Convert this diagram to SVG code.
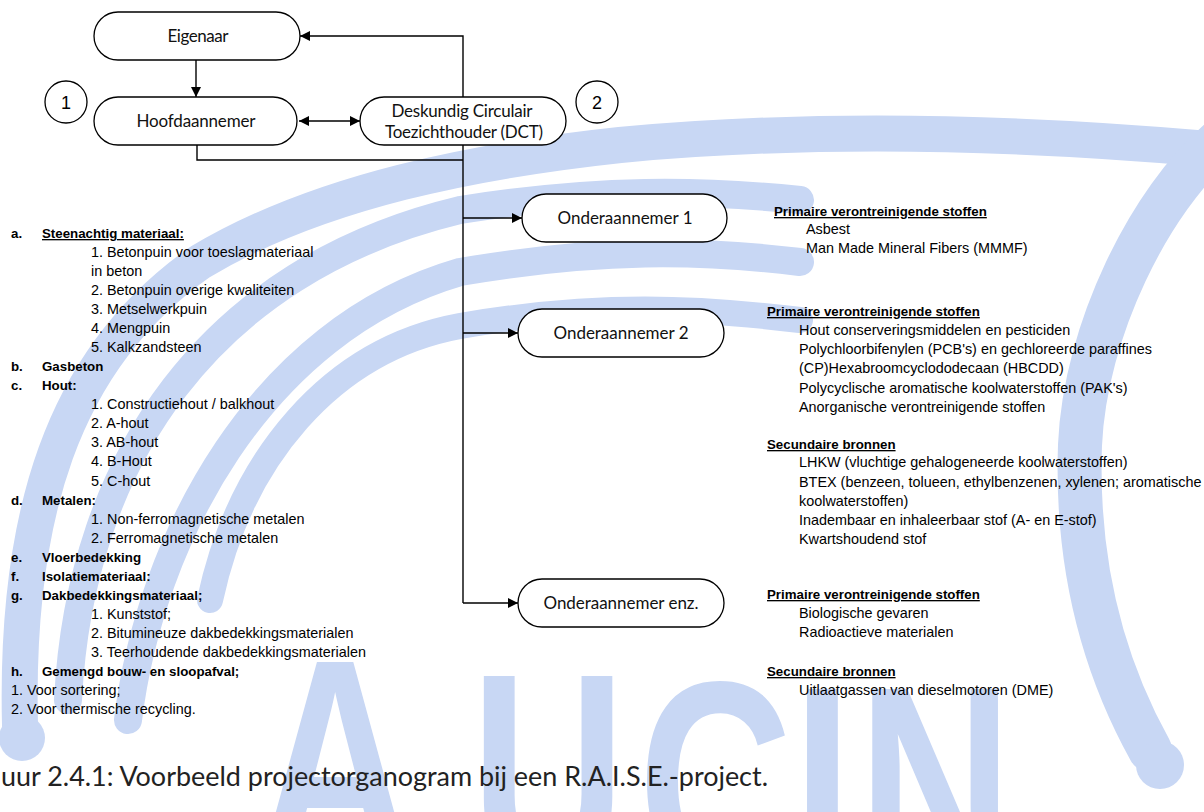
<svg xmlns="http://www.w3.org/2000/svg" width="1204" height="812" viewBox="0 0 1204 812">
<defs>
<marker id="ah" viewBox="0 0 10 10" refX="10" refY="5" markerWidth="13" markerHeight="10" markerUnits="userSpaceOnUse" orient="auto-start-reverse">
<path d="M0,0 L10,5 L0,10 z" fill="#000"/>
</marker>
</defs>
<style>
.wm{fill:none;stroke:#c8d7f4;stroke-linecap:round}
.wmf{fill:#c8d7f4}
.box{fill:#fff;stroke:#000;stroke-width:1.3}
.con{fill:none;stroke:#000;stroke-width:1.4}
.bl{font-family:Lato,"Open Sans",sans-serif;font-size:17px;fill:#111;text-anchor:middle}
.num{font-family:"Liberation Sans",Arial,sans-serif;font-size:18px;fill:#000;text-anchor:middle}
.t{font-family:"Liberation Sans",Arial,sans-serif;font-size:14.4px;fill:#000}
.b{font-family:"Liberation Sans",Arial,sans-serif;font-size:13.3px;font-weight:bold;fill:#000}
.u{text-decoration:underline}
.cap{font-family:Lato,"Open Sans",sans-serif;font-size:26px;fill:#222}
</style>
<g id="watermark">
<path class="wm" stroke-width="36" d="M20,725 C15,520 60,360 200,262 C320,190 480,160 620,145 C800,128 1000,130 1220,150"/>
<path class="wm" stroke-width="44" d="M1220,140 C1150,200 1085,330 1080,445 C1076,560 1100,660 1150,750"/>
<circle class="wmf" cx="22" cy="738" r="23"/>
<circle class="wmf" cx="1160" cy="765" r="24"/>
<path class="wm" stroke-width="28" d="M68,700 C80,460 210,270 460,210 C600,188 700,190 800,200"/>
<path class="wm" stroke-width="28" d="M128,720 C150,540 260,330 460,272 C600,248 700,250 800,262"/>
<path class="wm" stroke-width="26" d="M210,600 C240,460 330,350 460,326 C600,302 700,308 800,320"/>
<text transform="scale(0.75 1)" x="344 628 851 1057 1144" y="858 872 880 885 885" font-family="'Liberation Sans',Arial,sans-serif" font-weight="bold" font-size="285" fill="#c8d7f4">AUCIN</text>
</g>
<g id="connectors">
<line class="con" x1="196" y1="60" x2="196" y2="97" marker-end="url(#ah)"/>
<line class="con" x1="299" y1="121" x2="360" y2="121" marker-start="url(#ah)" marker-end="url(#ah)"/>
<polyline class="con" points="463,97 463,36 300,36" marker-end="url(#ah)"/>
<polyline class="con" points="197,145 197,160 463,160"/>
<line class="con" x1="463" y1="145" x2="463" y2="603"/>
<line class="con" x1="463" y1="218" x2="522" y2="218" marker-end="url(#ah)"/>
<line class="con" x1="463" y1="333" x2="518" y2="333" marker-end="url(#ah)"/>
<line class="con" x1="463" y1="603" x2="518" y2="603" marker-end="url(#ah)"/>
</g>
<g id="eigenaar">
<rect class="box" x="94" y="12" width="206" height="48" rx="24"/>
<text class="bl" x="198" y="42" textLength="61">Eigenaar</text>
</g>
<g id="hoofdaannemer">
<rect class="box" x="94" y="97" width="203" height="48" rx="24"/>
<text class="bl" x="196" y="127" textLength="119">Hoofdaannemer</text>
</g>
<g id="dct">
<rect class="box" x="360" y="97" width="206" height="48" rx="24"/>
<text class="bl" x="462" y="117" textLength="141">Deskundig Circulair</text>
<text class="bl" x="464" y="138" textLength="158">Toezichthouder (DCT)</text>
</g>
<g id="marker1">
<circle class="box" cx="66" cy="102" r="21"/>
<text class="num" x="66" y="109">1</text>
</g>
<g id="marker2">
<circle class="box" cx="597" cy="102" r="21"/>
<text class="num" x="597" y="109">2</text>
</g>
<g id="onder1">
<rect class="box" x="522" y="194" width="205" height="48" rx="24"/>
<text class="bl" x="625" y="224" textLength="135">Onderaannemer 1</text>
</g>
<g id="onder2">
<rect class="box" x="518" y="309" width="206" height="48" rx="24"/>
<text class="bl" x="621" y="339" textLength="135">Onderaannemer 2</text>
</g>
<g id="onderenz">
<rect class="box" x="518" y="579" width="206" height="48" rx="24"/>
<text class="bl" x="621" y="609" textLength="155">Onderaannemer enz.</text>
</g>
<g id="materials">
<text class="b" x="11" y="238">a.</text><text class="b u" x="42" y="238">Steenachtig materiaal:</text>
<text class="t" x="91" y="257">1. Betonpuin voor toeslagmateriaal</text>
<text class="t" x="91" y="276">in beton</text>
<text class="t" x="91" y="295">2. Betonpuin overige kwaliteiten</text>
<text class="t" x="91" y="314">3. Metselwerkpuin</text>
<text class="t" x="91" y="333">4. Mengpuin</text>
<text class="t" x="91" y="352">5. Kalkzandsteen</text>
<text class="b" x="11" y="371">b.</text><text class="b" x="42" y="371">Gasbeton</text>
<text class="b" x="11" y="390">c.</text><text class="b" x="42" y="390">Hout:</text>
<text class="t" x="91" y="409">1. Constructiehout / balkhout</text>
<text class="t" x="91" y="428">2. A-hout</text>
<text class="t" x="91" y="447">3. AB-hout</text>
<text class="t" x="91" y="466">4. B-Hout</text>
<text class="t" x="91" y="486">5. C-hout</text>
<text class="b" x="11" y="505">d.</text><text class="b" x="42" y="505">Metalen:</text>
<text class="t" x="91" y="524">1. Non-ferromagnetische metalen</text>
<text class="t" x="91" y="543">2. Ferromagnetische metalen</text>
<text class="b" x="11" y="562">e.</text><text class="b" x="42" y="562">Vloerbedekking</text>
<text class="b" x="11" y="581">f.</text><text class="b" x="42" y="581">Isolatiemateriaal:</text>
<text class="b" x="11" y="600">g.</text><text class="b" x="42" y="600">Dakbedekkingsmateriaal;</text>
<text class="t" x="91" y="619">1. Kunststof;</text>
<text class="t" x="91" y="638">2. Bitumineuze dakbedekkingsmaterialen</text>
<text class="t" x="91" y="657">3. Teerhoudende dakbedekkingsmaterialen</text>
<text class="b" x="11" y="676">h.</text><text class="b" x="42" y="676">Gemengd bouw- en sloopafval;</text>
<text class="t" x="11" y="695">1. Voor sortering;</text>
<text class="t" x="11" y="714">2. Voor thermische recycling.</text>
</g>
<g id="risks">
<text class="b u" x="774" y="216">Primaire verontreinigende stoffen</text>
<text class="t" x="806" y="234">Asbest</text>
<text class="t" x="806" y="253">Man Made Mineral Fibers (MMMF)</text>
<text class="b u" x="767" y="316">Primaire verontreinigende stoffen</text>
<text class="t" x="799" y="335">Hout conserveringsmiddelen en pesticiden</text>
<text class="t" x="799" y="354">Polychloorbifenylen (PCB's) en gechloreerde paraffines</text>
<text class="t" x="799" y="373">(CP)Hexabroomcyclododecaan (HBCDD)</text>
<text class="t" x="799" y="393">Polycyclische aromatische koolwaterstoffen (PAK's)</text>
<text class="t" x="799" y="412">Anorganische verontreinigende stoffen</text>
<text class="b u" x="767" y="449">Secundaire bronnen</text>
<text class="t" x="799" y="467">LHKW (vluchtige gehalogeneerde koolwaterstoffen)</text>
<text class="t" x="799" y="487">BTEX (benzeen, tolueen, ethylbenzenen, xylenen; aromatische</text>
<text class="t" x="799" y="506">koolwaterstoffen)</text>
<text class="t" x="799" y="525">Inadembaar en inhaleerbaar stof (A- en E-stof)</text>
<text class="t" x="799" y="544">Kwartshoudend stof</text>
<text class="b u" x="767" y="599">Primaire verontreinigende stoffen</text>
<text class="t" x="799" y="618">Biologische gevaren</text>
<text class="t" x="799" y="637">Radioactieve materialen</text>
<text class="b u" x="767" y="676">Secundaire bronnen</text>
<text class="t" x="799" y="695">Uitlaatgassen van dieselmotoren (DME)</text>
</g>
<text class="cap" x="1" y="786" textLength="767" lengthAdjust="spacingAndGlyphs">uur 2.4.1: Voorbeeld projectorganogram bij een R.A.I.S.E.-project.</text>
</svg>
